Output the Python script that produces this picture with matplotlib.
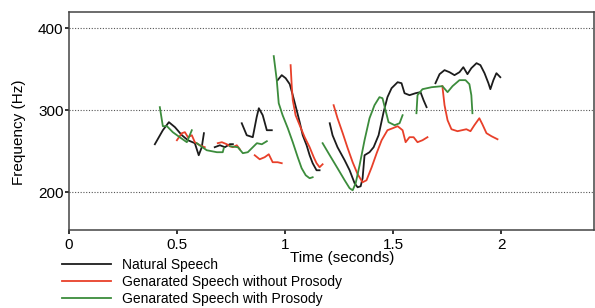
import numpy as np
import matplotlib
matplotlib.use('Agg')
import matplotlib.pyplot as plt

plt.rcParams['font.family'] = ['Liberation Sans', 'DejaVu Sans']

nan = np.nan

# pitch contours, segments split by nan
natural_time = [0.397, 0.434, 0.462, 0.490, 0.522, 0.550, 0.582, 0.600, 0.614, 0.624, nan,
                0.674, 0.698, 0.721, 0.744, 0.758, nan,
                0.799, 0.822, 0.850, 0.868, 0.878, 0.896, 0.915, 0.938, nan,
                0.965, 0.984, 1.002, 1.021, 1.035, 1.053, 1.067, 1.081, 1.099, 1.113, 1.127, 1.145, 1.159, nan,
                1.206, 1.219, 1.242, 1.275, 1.298, 1.321, 1.335, 1.349, 1.358, 1.367, 1.390, 1.409, 1.432,
                1.455, 1.473, 1.492, 1.520, 1.538, 1.552, 1.575, 1.603, 1.626, 1.640, 1.654, nan,
                1.695, 1.714, 1.737, 1.760, 1.783, 1.806, 1.824, 1.843, 1.861, 1.885, 1.903, 1.922, 1.940,
                1.949, 1.963, 1.977, 1.995]
natural_freq = [258.5, 275.6, 285.4, 279.3, 269.5, 263.4, 259.8, 245.1, 254.9, 272.0, nan,
                254.9, 257.3, 254.9, 258.6, 258.6, nan,
                284.1, 269.5, 267.1, 291.5, 302.4, 293.9, 275.6, 275.6, nan,
                336.6, 342.7, 339.0, 331.7, 318.3, 300.0, 285.4, 269.5, 257.3, 245.1, 235.4, 226.8, 226.8, nan,
                284.1, 269.5, 254.9, 239.0, 226.8, 211.0, 206.1, 207.3, 217.1, 245.1, 248.8, 254.9, 269.5,
                297.6, 315.9, 326.8, 334.1, 332.9, 320.7, 318.3, 320.7, 322.0, 312.2, 303.7, nan,
                332.9, 343.9, 348.8, 346.3, 342.7, 346.3, 352.4, 343.9, 351.2, 357.3, 354.9, 345.1, 332.9,
                325.6, 336.6, 345.1, 340.2]

no_prosody_time = [0.499, 0.522, 0.536, 0.550, 0.568, 0.582, 0.605, 0.628, nan,
                   0.688, 0.707, 0.730, 0.744, 0.758, 0.776, 0.790, nan,
                   0.859, 0.882, 0.905, 0.924, 0.942, 0.965, 0.984, nan,
                   1.025, 1.030, 1.035, 1.048, 1.067, 1.090, 1.113, 1.132, 1.145, 1.159, 1.173, nan,
                   1.224, 1.242, 1.266, 1.289, 1.312, 1.335, 1.358, 1.376, 1.400, 1.423, 1.446, 1.473,
                   1.497, 1.520, 1.543, 1.557, 1.575, 1.594, 1.612, 1.635, 1.658, nan,
                   1.727, 1.737, 1.751, 1.769, 1.797, 1.838, 1.857, 1.875, 1.898, 1.912, 1.931, 1.954, 1.982]
no_prosody_freq = [263.4, 272.0, 273.2, 267.1, 269.5, 261.0, 257.3, 254.9, nan,
                   259.8, 261.0, 258.5, 256.1, 254.9, 257.3, 252.4, nan,
                   245.1, 240.2, 242.7, 246.3, 236.6, 236.6, 235.4, nan,
                   354.9, 330.5, 312.2, 293.9, 281.7, 267.1, 254.9, 242.7, 235.4, 230.5, 234.1, nan,
                   306.1, 290.2, 272.0, 253.7, 236.6, 222.0, 212.2, 214.6, 230.5, 247.6, 263.4, 275.6,
                   278.0, 280.5, 275.6, 261.0, 267.1, 267.1, 261.0, 263.4, 267.1, nan,
                   329.3, 306.1, 287.8, 276.8, 274.4, 276.8, 274.4, 281.7, 290.2, 282.9, 272.0, 268.3, 264.6]

prosody_time = [0.420, 0.434, 0.453, 0.480, 0.512, 0.545, 0.568, nan,
                0.591, 0.637, 0.684, 0.711, 0.716, nan,
                0.744, 0.781, 0.804, 0.827, 0.869, 0.892, 0.915, nan,
                0.947, 0.961, 0.970, 0.988, 1.012, 1.035, 1.058, 1.076, 1.095, 1.113, 1.127, nan,
                1.173, 1.206, 1.242, 1.275, 1.298, 1.312, 1.326, 1.344, 1.367, 1.390, 1.413, 1.436,
                1.450, 1.464, 1.478, 1.506, 1.529, 1.543, nan,
                1.607, 1.612, 1.635, 1.677, 1.727, 1.751, 1.774, 1.806, 1.834, 1.852, 1.861, 1.866]
prosody_freq = [303.7, 280.5, 280.5, 273.2, 267.1, 261.0, 275.6, nan,
                259.8, 251.2, 248.8, 248.8, 253.7, nan,
                256.1, 254.9, 247.6, 248.8, 259.8, 258.5, 262.2, nan,
                365.9, 336.6, 308.5, 293.9, 278.0, 261.0, 242.7, 229.3, 220.7, 217.1, 218.3, nan,
                259.8, 245.1, 229.3, 214.6, 204.9, 202.4, 211.0, 232.9, 263.4, 290.2, 306.1, 315.9,
                314.6, 300.0, 285.4, 281.7, 284.1, 293.9, nan,
                296.3, 318.3, 325.6, 328.0, 329.3, 322.0, 329.3, 336.6, 336.6, 331.7, 318.3, 296.3]

labels = ['Natural Speech', 'Genarated Speech without Prosody', 'Genarated Speech with Prosody']
colors = ['#1c1c1c', '#e8402a', '#3c8c3c']
x_ticks = [0, 0.5, 1, 1.5, 2]
x_tick_labels = ['0', '0.5', '1', '1.5', '2']
y_ticks = [200, 300, 400]

fig = plt.figure(figsize=(5.95, 3.08), dpi=100)
ax = fig.add_axes([0.116, 0.2532, 0.8829, 0.7088])

ax.plot(natural_time, natural_freq, color=colors[0], lw=1.3, label=labels[0])
ax.plot(no_prosody_time, no_prosody_freq, color=colors[1], lw=1.3, label=labels[1])
ax.plot(prosody_time, prosody_freq, color=colors[2], lw=1.3, label=labels[2])

ax.set_xlim(0, 2.43)
ax.set_ylim(154, 420)
ax.set_xticks(x_ticks)
ax.set_xticklabels(x_tick_labels)
ax.set_yticks(y_ticks)
for y in y_ticks:
    ax.axhline(y, color='#555555', lw=0.8, ls=(0, (1, 1.5)), zorder=0)

for s in ax.spines.values():
    s.set_color('#444444')
    s.set_linewidth(1.1)
ax.tick_params(direction='out', length=3, width=1.4, color='#333333', labelsize=11)
ax.tick_params(axis='x', pad=3)
ax.tick_params(axis='y', pad=1)

ax.set_xlabel('Time (seconds)', fontsize=11)
ax.xaxis.set_label_coords((342.5 - 69) / 525.3, -0.096)
ax.set_ylabel('Frequency (Hz)', fontsize=11)
ax.yaxis.set_label_coords(-0.082, 0.449)

ax.legend(loc='upper left', bbox_to_anchor=(0.105, 0.163), bbox_transform=fig.transFigure,
          frameon=False, fontsize=10, handlelength=3.5, handletextpad=0.8,
          labelspacing=0.22, borderpad=0, borderaxespad=0)

fig.savefig('out.png', dpi=100, facecolor='white')
